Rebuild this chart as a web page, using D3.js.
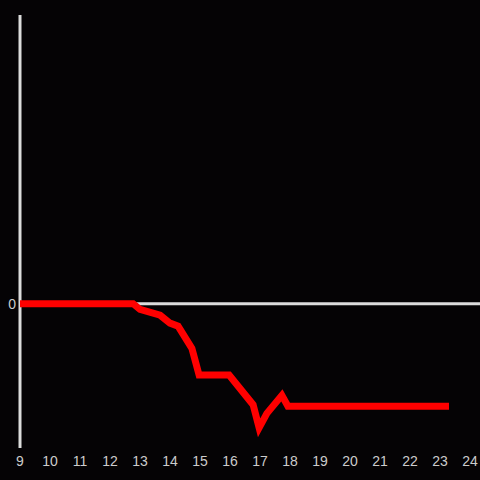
<!DOCTYPE html>
<html>
<head>
<meta charset="utf-8">
<script src="https://cdn.jsdelivr.net/npm/d3@7"></script>
<style>
  html, body { margin: 0; padding: 0; background: #050305; }
  text { font-family: "Liberation Sans", Arial, sans-serif; }
</style>
</head>
<body>
<div id="chart"></div>
<script>
// hours on the x axis
var hours = [9, 12.77, 13.0, 13.67, 14.0, 14.27, 14.73, 14.97, 15.97, 16.77, 16.97, 17.23, 17.73, 17.93, 23.3];
// series values
var values = [0, 0, -0.04, -0.08, -0.135, -0.156, -0.31, -0.495, -0.495, -0.70, -0.86, -0.76, -0.635, -0.71, -0.71];
// tick labels
var xTicks = [9, 10, 11, 12, 13, 14, 15, 16, 17, 18, 19, 20, 21, 22, 23, 24];
var yTicks = [0];

var width = 480, height = 480;

var svg = d3.select("#chart").append("svg")
    .attr("width", width)
    .attr("height", height)
    .style("background", "#050305");

var x = d3.scaleLinear().domain([9, 24]).range([20, 470]);
var y = d3.scaleLinear().domain([-1, 2]).range([448, 15]);

// y axis line
svg.append("line")
    .attr("x1", x(9)).attr("x2", x(9))
    .attr("y1", 15).attr("y2", 448)
    .style("stroke", "#dcdcdc")
    .style("stroke-width", 3);

// zero line
svg.append("line")
    .attr("x1", x(9)).attr("x2", width)
    .attr("y1", y(0)).attr("y2", y(0))
    .style("stroke", "#dcdcdc")
    .style("stroke-width", 3);

// y tick labels
svg.selectAll(".ylab")
    .data(yTicks)
    .enter().append("text")
    .attr("class", "ylab")
    .attr("x", 16)
    .attr("y", function(d) { return y(d); })
    .attr("dy", "0.35em")
    .attr("text-anchor", "end")
    .style("fill", "#cccccc")
    .style("font-size", "14px")
    .text(String);

// x tick labels
svg.selectAll(".xlab")
    .data(xTicks)
    .enter().append("text")
    .attr("class", "xlab")
    .attr("x", function(d) { return x(d); })
    .attr("y", 466)
    .attr("text-anchor", "middle")
    .style("fill", "#cccccc")
    .style("font-size", "14px")
    .text(String);

// red series
var line = d3.line()
    .x(function(d, i) { return x(hours[i]); })
    .y(function(d) { return y(d); });

svg.append("path")
    .datum(values)
    .attr("d", line)
    .style("fill", "none")
    .style("stroke", "#ff0000")
    .style("stroke-width", 7)
    .style("stroke-linejoin", "miter");
</script>
</body>
</html>
